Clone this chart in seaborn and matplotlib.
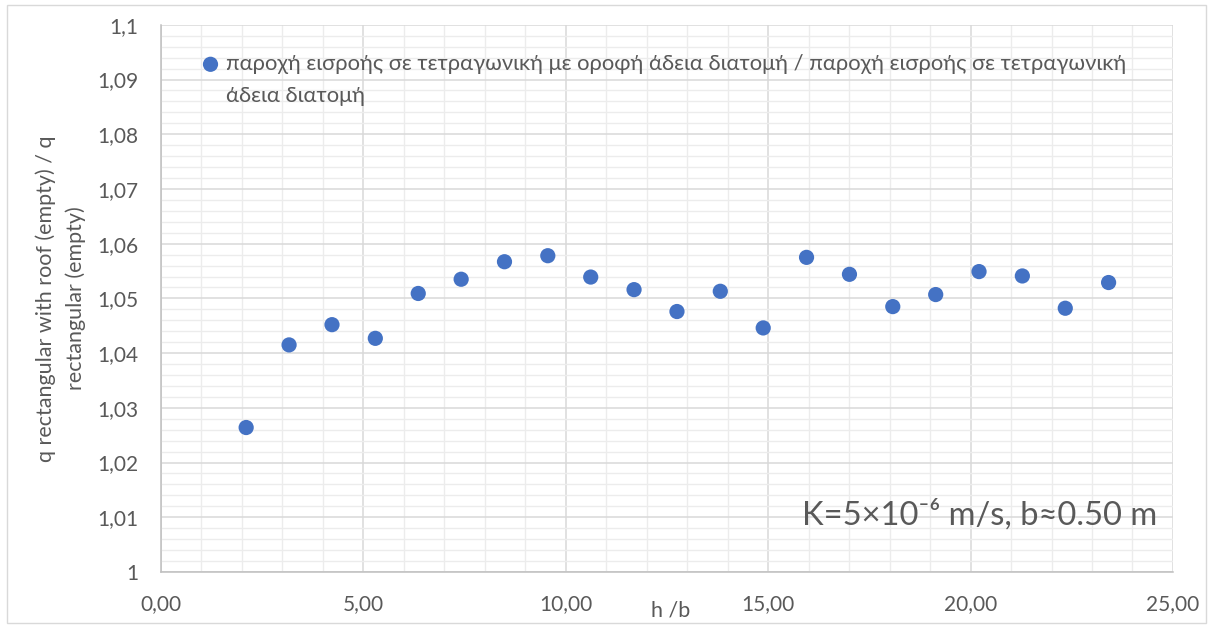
import numpy as np
import pandas as pd
import matplotlib
matplotlib.use("Agg")
import matplotlib.pyplot as plt
import seaborn as sns
from matplotlib.ticker import MultipleLocator, FuncFormatter
from matplotlib.patches import Rectangle

# values
h_over_b = [2.11, 3.17, 4.23, 5.30, 6.36, 7.42, 8.49, 9.56, 10.62, 11.69,
            12.75, 13.82, 14.88, 15.95, 17.01, 18.08, 19.14, 20.21, 21.28,
            22.34, 23.41]
q_ratio = [1.0264, 1.0415, 1.0452, 1.0427, 1.0509, 1.0535, 1.0567, 1.0578,
           1.0539, 1.0516, 1.0476, 1.0513, 1.0446, 1.0575, 1.0544, 1.0485,
           1.0507, 1.0549, 1.0541, 1.0482, 1.0529]
series_label = ("παροχή εισροής σε τετραγωνική με οροφή άδεια διατομή / "
                "παροχή εισροής σε τετραγωνική")
series_label_2 = "άδεια διατομή"
x_label = "h /b"
y_label = "q rectangular with roof (empty) / q\nrectangular (empty)"
note = "K=5×10⁻⁶ m/s, b≈0.50 m"

df = pd.DataFrame({"hb": h_over_b, "q": q_ratio})

sns.set_style("white")
plt.rcParams["font.family"] = ["Lato", "Noto Sans", "DejaVu Sans"]

text_col = "#595959"
fig = plt.figure(figsize=(12.13, 6.28), dpi=100)
ax = fig.add_axes([0.1325, 0.0892, 0.8345, 0.8713])

sns.scatterplot(data=df, x="hb", y="q", ax=ax, color="#4472C4", s=120,
                edgecolor="none", label=series_label, zorder=3)

ax.set_xlim(0, 25)
ax.set_ylim(1.0, 1.1)
ax.xaxis.set_major_locator(MultipleLocator(5))
ax.xaxis.set_minor_locator(MultipleLocator(1))
ax.yaxis.set_major_locator(MultipleLocator(0.01))
ax.yaxis.set_minor_locator(MultipleLocator(0.002))
ax.xaxis.set_major_formatter(FuncFormatter(lambda v, p: f"{v:.2f}".replace(".", ",")))

def yfmt(v, p):
    s = f"{v:.2f}".rstrip("0").rstrip(".")
    return s.replace(".", ",")

ax.yaxis.set_major_formatter(FuncFormatter(yfmt))

ax.grid(which="major", color="#d9d9d9", linewidth=1.1)
ax.grid(which="minor", color="#ececec", linewidth=1.0)
ax.set_axisbelow(True)
for side in ["top", "right"]:
    ax.spines[side].set_visible(False)
for side in ["left", "bottom"]:
    ax.spines[side].set_color("#bfbfbf")
    ax.spines[side].set_linewidth(1.1)
ax.tick_params(which="major", direction="out", length=5, width=1, color="#bfbfbf",
               labelcolor=text_col, labelsize=15, pad=11)
ax.tick_params(which="minor", length=0)

ax.set_xlabel(x_label, fontsize=15.5, color=text_col)
ax.xaxis.set_label_coords(0.504, -0.071)
ax.xaxis.label.set_va("center")
ax.set_ylabel(y_label, fontsize=15.5, color=text_col, labelpad=8, linespacing=1.6)

leg = ax.legend(loc="center left", bbox_to_anchor=(0.1663, 0.898),
                bbox_transform=fig.transFigure, frameon=False, fontsize=15.8,
                handlelength=0.8, handletextpad=0.3, borderpad=0, borderaxespad=0,
                labelcolor=text_col)

# second line of the legend entry, lined up under the first
fig.canvas.draw()
tb = leg.get_texts()[0].get_window_extent()
fig.text(tb.x0 / fig.bbox.width, 1 - 96 / 628, series_label_2, ha="left", va="center",
         fontsize=15.8, color=text_col)

ax.text(0.984, 0.104, note, transform=ax.transAxes, ha="right", va="center",
        fontsize=23.5, color=text_col)

fig.patches.append(Rectangle((0.006, 0.008), 0.988, 0.984, transform=fig.transFigure,
                             fill=False, edgecolor="#d9d9d9", linewidth=1))

fig.savefig("out.png", dpi=100)
